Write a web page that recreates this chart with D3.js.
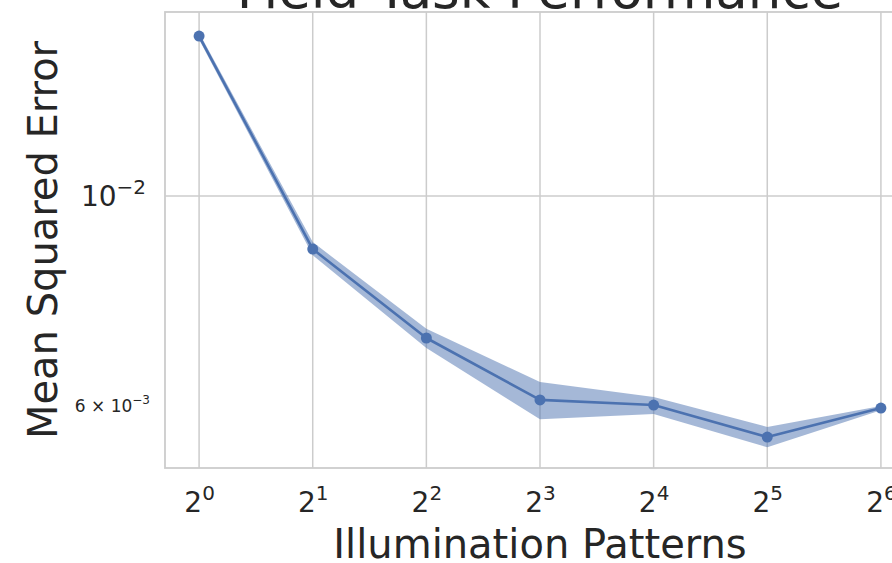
<!DOCTYPE html>
<html>
<head>
<meta charset="utf-8">
<script src="https://cdn.jsdelivr.net/npm/d3@7"></script>
<style>
  html, body { margin: 0; padding: 0; background: #fff; }
  svg { display: block; font-family: "DejaVu Sans", sans-serif; }
</style>
</head>
<body>
<svg id="chart" width="892" height="563"></svg>
<script>
// ---- data ----
const patterns = [1, 2, 4, 8, 16, 32, 64];
const mse      = [0.01476, 0.00879, 0.00708, 0.00609, 0.006014, 0.005563, 0.00597];
const mseLow   = [0.01464, 0.00866, 0.00691, 0.00581, 0.005884, 0.005427, 0.00594];
const mseHigh  = [0.01488, 0.00894, 0.00724, 0.00636, 0.006133, 0.005702, 0.00600];
const xTickExps = [0, 1, 2, 3, 4, 5, 6];
const yMajorTicks = [{ v: 0.01, base: "10", exp: "\u22122" }];
const yMinorTicks = [{ v: 0.006, base: "6 \u00d7 10", exp: "\u22123" }];
const titleText = "Field Task Performance";
const xLabel = "Illumination Patterns";
const yLabel = "Mean Squared Error";

// ---- layout ----
const svg = d3.select("#chart");
const plot = { left: 165, top: 12, bottom: 468, right: 915 };
const blue = "#4c72b0";
const textCol = "#262626";
const gridCol = "#cccccc";

// x: log2, 5% margins in log space
const lx = d3.extent(patterns).map(Math.log2);
const mx = (lx[1] - lx[0]) * 0.05;
const x = d3.scaleLog().base(2)
  .domain([Math.pow(2, lx[0] - mx), Math.pow(2, lx[1] + mx)])
  .range([plot.left, plot.right]);

// y: log10, 5% margins in log space
const ly = [Math.log10(d3.min(mseLow)), Math.log10(d3.max(mseHigh))];
const my = (ly[1] - ly[0]) * 0.05;
const y = d3.scaleLog()
  .domain([Math.pow(10, ly[0] - my), Math.pow(10, ly[1] + my)])
  .range([plot.bottom, plot.top]);

// grid
const g = svg.append("g");
g.selectAll("line.vgrid").data(xTickExps).join("line")
  .attr("x1", d => x(Math.pow(2, d))).attr("x2", d => x(Math.pow(2, d)))
  .attr("y1", plot.top).attr("y2", plot.bottom)
  .attr("stroke", gridCol).attr("stroke-width", 1.5);
g.selectAll("line.hgrid").data(yMajorTicks).join("line")
  .attr("x1", plot.left).attr("x2", plot.right)
  .attr("y1", d => y(d.v)).attr("y2", d => y(d.v))
  .attr("stroke", gridCol).attr("stroke-width", 1.5);

// spines
g.append("rect")
  .attr("x", plot.left).attr("y", plot.top)
  .attr("width", plot.right - plot.left).attr("height", plot.bottom - plot.top)
  .attr("fill", "none").attr("stroke", gridCol).attr("stroke-width", 1.8);

// x axis tick labels
const xAxis = d3.axisBottom(x)
  .tickValues(xTickExps.map(e => Math.pow(2, e)))
  .tickSize(0).tickPadding(0).tickFormat("");
const xg = svg.append("g").attr("transform", `translate(0,${plot.bottom})`).call(xAxis);
xg.select(".domain").remove();
xg.selectAll(".tick text").each(function(d, i) {
  const t = d3.select(this)
    .attr("y", 44).attr("dy", null)
    .attr("fill", textCol).attr("font-size", 28)
    .attr("text-anchor", "middle").attr("font-family", "DejaVu Sans");
  t.append("tspan").text("2");
  t.append("tspan").attr("font-size", 20).attr("dy", -12).text(String(xTickExps[i]));
});

// y axis major labels
const yAxis = d3.axisLeft(y)
  .tickValues(yMajorTicks.map(d => d.v)).tickSize(0).tickPadding(0).tickFormat("");
const yg = svg.append("g").attr("transform", `translate(${plot.left},0)`).call(yAxis);
yg.select(".domain").remove();
yg.selectAll(".tick text").each(function(d, i) {
  const t = d3.select(this)
    .attr("x", -19).attr("dy", "0.35em")
    .attr("fill", textCol).attr("font-size", 28)
    .attr("text-anchor", "end").attr("font-family", "DejaVu Sans");
  t.append("tspan").text(yMajorTicks[i].base);
  t.append("tspan").attr("font-size", 20).attr("dy", -12).text(yMajorTicks[i].exp);
});

// y axis minor labels
const yAxisMinor = d3.axisLeft(y)
  .tickValues(yMinorTicks.map(d => d.v)).tickSize(0).tickPadding(0).tickFormat("");
const ymg = svg.append("g").attr("transform", `translate(${plot.left},0)`).call(yAxisMinor);
ymg.select(".domain").remove();
ymg.selectAll(".tick text").each(function(d, i) {
  const t = d3.select(this)
    .attr("x", -15).attr("dy", "0.35em")
    .attr("fill", textCol).attr("font-size", 17)
    .attr("text-anchor", "end").attr("font-family", "DejaVu Sans")
    .attr("xml:space", "preserve").style("white-space", "pre");
  t.append("tspan").text(yMinorTicks[i].base);
  t.append("tspan").attr("font-size", 12).attr("dy", -8).text(yMinorTicks[i].exp);
});

// band
const idx = d3.range(patterns.length);
const area = d3.area()
  .x(i => x(patterns[i]))
  .y0(i => y(mseLow[i]))
  .y1(i => y(mseHigh[i]));
svg.append("path").datum(idx).attr("d", area)
  .attr("fill", blue).attr("fill-opacity", 0.5).attr("stroke", "none");

// line
const line = d3.line().x(i => x(patterns[i])).y(i => y(mse[i]));
svg.append("path").datum(idx).attr("d", line)
  .attr("fill", "none").attr("stroke", blue).attr("stroke-width", 2.6)
  .attr("stroke-linejoin", "round");

// markers
svg.selectAll("circle.pt").data(idx).join("circle")
  .attr("cx", i => x(patterns[i])).attr("cy", i => y(mse[i]))
  .attr("r", 5.5).attr("fill", blue);

// labels
svg.append("text")
  .attr("x", (plot.left + plot.right) / 2).attr("y", 558)
  .attr("text-anchor", "middle").attr("font-size", 40).attr("fill", textCol)
  .text(xLabel);
svg.append("text")
  .attr("transform", `translate(57,${(plot.top + plot.bottom) / 2}) rotate(-90)`)
  .attr("text-anchor", "middle").attr("font-size", 40).attr("fill", textCol)
  .text(yLabel);
svg.append("text")
  .attr("x", (plot.left + plot.right) / 2).attr("y", 8)
  .attr("text-anchor", "middle").attr("font-size", 53).attr("fill", textCol)
  .text(titleText);
</script>
</body>
</html>
